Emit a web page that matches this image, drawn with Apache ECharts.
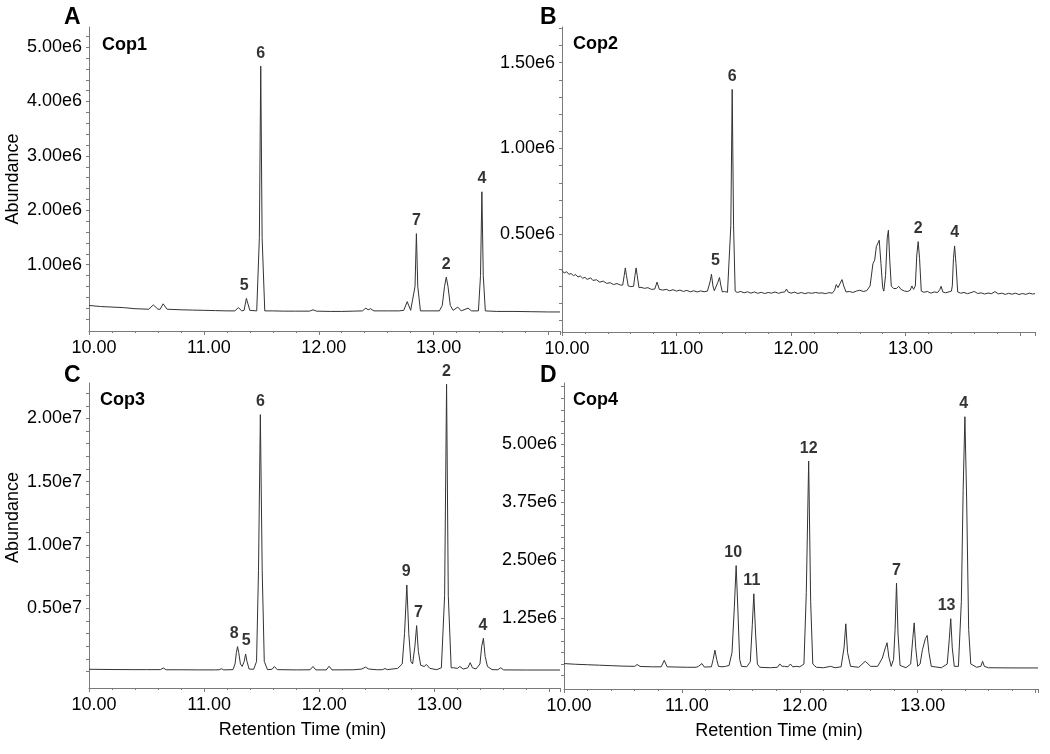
<!DOCTYPE html>
<html><head><meta charset="utf-8">
<script src="https://cdn.jsdelivr.net/npm/echarts@6/dist/echarts.min.js"></script>
<style>html,body{margin:0;padding:0;background:#fff}#c{width:1050px;height:754px}</style>
</head><body><div id="c"></div>
<script>
// ---- Data: retention time (min), abundance in axis units (A,B,D: x1e6, C: x1e7)
const traceA = [[10.00,0.25],[10.10,0.23],[10.20,0.22],[10.30,0.21],[10.40,0.19],[10.52,0.18],[10.56,0.26],[10.60,0.18],[10.62,0.18],[10.645,0.28],[10.68,0.18],[10.80,0.17],[10.90,0.165],[11.00,0.16],[11.10,0.155],[11.20,0.15],[11.27,0.15],[11.30,0.21],[11.33,0.15],[11.35,0.16],[11.37,0.38],[11.40,0.16],[11.46,0.15],[11.483,1.5],[11.495,4.65],[11.507,1.5],[11.53,0.15],[11.60,0.15],[11.70,0.145],[11.80,0.145],[11.92,0.145],[11.95,0.17],[11.98,0.145],[12.10,0.14],[12.20,0.14],[12.30,0.145],[12.38,0.15],[12.41,0.20],[12.43,0.17],[12.45,0.19],[12.48,0.15],[12.60,0.15],[12.70,0.15],[12.74,0.16],[12.77,0.32],[12.80,0.16],[12.815,0.17],[12.838,0.6],[12.85,1.57],[12.862,0.6],[12.885,0.15],[12.95,0.15],[13.05,0.15],[13.075,0.25],[13.095,0.6],[13.11,0.77],[13.125,0.6],[13.145,0.25],[13.17,0.16],[13.21,0.22],[13.24,0.15],[13.30,0.2],[13.33,0.15],[13.39,0.15],[13.408,0.8],[13.42,2.34],[13.432,0.8],[13.45,0.15],[13.55,0.14],[13.70,0.14],[13.85,0.135],[14.00,0.13],[14.10,0.13]];

const traceB = [[10.00,0.29],[10.02,0.275],[10.04,0.283],[10.06,0.268],[10.08,0.272],[10.10,0.26],[10.12,0.266],[10.14,0.252],[10.16,0.258],[10.18,0.245],[10.20,0.25],[10.22,0.238],[10.25,0.247],[10.27,0.232],[10.30,0.236],[10.33,0.222],[10.36,0.228],[10.39,0.215],[10.42,0.219],[10.45,0.208],[10.48,0.214],[10.51,0.205],[10.53,0.205],[10.543,0.26],[10.553,0.305],[10.563,0.26],[10.578,0.2],[10.60,0.196],[10.625,0.198],[10.637,0.26],[10.647,0.305],[10.657,0.26],[10.672,0.19],[10.69,0.192],[10.72,0.186],[10.75,0.19],[10.78,0.18],[10.81,0.182],[10.83,0.222],[10.85,0.18],[10.88,0.176],[10.91,0.18],[10.94,0.172],[10.97,0.178],[11.00,0.17],[11.03,0.176],[11.06,0.168],[11.09,0.174],[11.12,0.166],[11.15,0.172],[11.18,0.165],[11.21,0.171],[11.24,0.166],[11.27,0.17],[11.285,0.168],[11.295,0.23],[11.305,0.268],[11.318,0.2],[11.33,0.172],[11.345,0.165],[11.36,0.22],[11.375,0.249],[11.388,0.2],[11.40,0.165],[11.42,0.168],[11.445,0.163],[11.46,0.165],[11.474,0.55],[11.486,1.344],[11.498,0.55],[11.512,0.17],[11.53,0.162],[11.56,0.168],[11.59,0.16],[11.62,0.166],[11.65,0.158],[11.68,0.165],[11.71,0.157],[11.74,0.163],[11.77,0.156],[11.80,0.162],[11.83,0.158],[11.86,0.165],[11.89,0.157],[11.92,0.163],[11.945,0.165],[11.96,0.182],[11.975,0.164],[12.00,0.158],[12.03,0.164],[12.06,0.156],[12.09,0.162],[12.12,0.155],[12.15,0.161],[12.18,0.157],[12.215,0.162],[12.23,0.172],[12.245,0.158],[12.27,0.16],[12.30,0.155],[12.33,0.161],[12.36,0.158],[12.38,0.175],[12.395,0.208],[12.41,0.19],[12.425,0.2],[12.445,0.237],[12.46,0.2],[12.48,0.165],[12.51,0.168],[12.54,0.162],[12.57,0.17],[12.60,0.175],[12.63,0.168],[12.66,0.172],[12.69,0.2],[12.715,0.33],[12.73,0.35],[12.745,0.43],[12.77,0.466],[12.785,0.33],[12.80,0.19],[12.81,0.17],[12.825,0.26],[12.84,0.48],[12.85,0.524],[12.862,0.35],[12.875,0.2],[12.895,0.185],[12.92,0.185],[12.94,0.198],[12.96,0.18],[12.99,0.17],[13.02,0.168],[13.04,0.175],[13.055,0.2],[13.07,0.18],[13.085,0.2],[13.098,0.38],[13.11,0.458],[13.122,0.36],[13.137,0.17],[13.16,0.163],[13.19,0.168],[13.22,0.158],[13.25,0.165],[13.28,0.162],[13.30,0.18],[13.31,0.198],[13.325,0.165],[13.35,0.16],[13.38,0.166],[13.40,0.17],[13.408,0.2],[13.418,0.36],[13.428,0.433],[13.44,0.33],[13.455,0.165],[13.48,0.158],[13.51,0.162],[13.54,0.155],[13.57,0.161],[13.60,0.168],[13.63,0.156],[13.66,0.16],[13.69,0.153],[13.72,0.159],[13.75,0.155],[13.78,0.167],[13.81,0.154],[13.84,0.158],[13.87,0.151],[13.90,0.157],[13.93,0.152],[13.96,0.158],[13.99,0.15],[14.02,0.156],[14.05,0.151],[14.08,0.158],[14.11,0.153],[14.13,0.155]];

const traceC = [[10.00,0.018],[10.20,0.016],[10.40,0.015],[10.50,0.015],[10.62,0.015],[10.645,0.028],[10.67,0.014],[10.80,0.014],[10.95,0.013],[11.10,0.013],[11.13,0.014],[11.15,0.022],[11.17,0.013],[11.25,0.015],[11.268,0.06],[11.28,0.15],[11.29,0.197],[11.30,0.15],[11.315,0.06],[11.33,0.04],[11.348,0.08],[11.36,0.139],[11.372,0.08],[11.39,0.02],[11.43,0.018],[11.455,0.08],[11.472,0.8],[11.488,2.03],[11.504,0.8],[11.522,0.08],[11.55,0.015],[11.59,0.018],[11.61,0.04],[11.635,0.015],[11.80,0.013],[11.92,0.014],[11.945,0.04],[11.97,0.013],[12.06,0.013],[12.085,0.042],[12.11,0.013],[12.30,0.014],[12.37,0.02],[12.40,0.035],[12.43,0.02],[12.50,0.014],[12.55,0.015],[12.57,0.024],[12.59,0.015],[12.68,0.025],[12.72,0.06],[12.74,0.3],[12.76,0.684],[12.777,0.3],[12.795,0.08],[12.81,0.06],[12.83,0.2],[12.845,0.363],[12.86,0.16],[12.88,0.05],[12.91,0.04],[12.93,0.056],[12.96,0.025],[13.02,0.015],[13.06,0.03],[13.088,0.6],[13.105,2.27],[13.12,0.6],[13.145,0.03],[13.165,0.03],[13.20,0.025],[13.22,0.04],[13.25,0.02],[13.29,0.03],[13.31,0.07],[13.33,0.03],[13.36,0.02],[13.395,0.06],[13.41,0.2],[13.425,0.263],[13.44,0.12],[13.46,0.04],[13.50,0.015],[13.55,0.014],[13.575,0.03],[13.60,0.013],[13.80,0.012],[14.09,0.012]];

const traceD = [[10.00,0.26],[10.10,0.245],[10.20,0.235],[10.30,0.225],[10.40,0.215],[10.50,0.205],[10.60,0.2],[10.62,0.24],[10.645,0.198],[10.75,0.19],[10.825,0.19],[10.85,0.33],[10.875,0.19],[10.95,0.185],[11.05,0.18],[11.12,0.18],[11.14,0.2],[11.155,0.19],[11.17,0.26],[11.19,0.185],[11.25,0.19],[11.265,0.35],[11.28,0.55],[11.295,0.35],[11.31,0.2],[11.34,0.19],[11.37,0.2],[11.40,0.22],[11.425,0.5],[11.445,1.5],[11.46,2.38],[11.475,1.4],[11.49,0.35],[11.505,0.2],[11.55,0.19],[11.58,0.3],[11.597,1.1],[11.61,1.77],[11.625,0.9],[11.64,0.25],[11.66,0.18],[11.75,0.17],[11.81,0.18],[11.83,0.25],[11.85,0.2],[11.87,0.2],[11.88,0.22],[11.90,0.19],[11.92,0.25],[11.94,0.19],[11.97,0.2],[11.98,0.22],[12.00,0.19],[12.035,0.25],[12.055,1.8],[12.075,4.64],[12.092,1.6],[12.11,0.25],[12.14,0.18],[12.20,0.17],[12.26,0.2],[12.30,0.17],[12.35,0.19],[12.375,0.6],[12.39,1.12],[12.405,0.5],[12.43,0.2],[12.50,0.18],[12.555,0.31],[12.60,0.2],[12.66,0.2],[12.70,0.38],[12.725,0.6],[12.74,0.71],[12.755,0.4],[12.775,0.2],[12.795,0.35],[12.808,1.0],[12.82,2.0],[12.833,0.9],[12.85,0.22],[12.90,0.17],[12.94,0.25],[12.958,0.8],[12.97,1.14],[12.983,0.6],[13.00,0.2],[13.02,0.25],[13.04,0.56],[13.065,0.8],[13.08,0.87],[13.095,0.5],[13.115,0.2],[13.20,0.17],[13.25,0.25],[13.268,0.8],[13.28,1.23],[13.293,0.6],[13.31,0.2],[13.345,0.2],[13.37,1.6],[13.385,4.0],[13.40,5.6],[13.415,3.8],[13.432,1.0],[13.45,0.25],[13.50,0.18],[13.535,0.2],[13.55,0.31],[13.565,0.2],[13.60,0.17],[13.80,0.166],[14.02,0.165]];

// peak labels: [time, abundance, text]
const peaksA = [[11.35,0.38,'5'],[11.495,4.65,'6'],[12.85,1.57,'7'],[13.11,0.77,'2'],[13.42,2.34,'4']];
const peaksB = [[11.34,0.27,'5'],[11.486,1.344,'6'],[13.11,0.458,'2'],[13.428,0.433,'4']];
const peaksC = [[11.26,0.197,'8'],[11.365,0.139,'5'],[11.488,2.03,'6'],[12.755,0.684,'9'],[12.86,0.363,'7'],[13.105,2.27,'2'],[13.42,0.263,'4']];
const peaksD = [[11.435,2.38,'10'],[11.593,1.77,'11'],[12.075,4.64,'12'],[12.82,2.0,'7'],[13.245,1.23,'13'],[13.39,5.6,'4']];

// tick labels
const xLabels = [10, 11, 12, 13];
const yLabelsA = [1, 2, 3, 4, 5];
const yLabelsB = [0.5, 1.0, 1.5];
const yLabelsC = [0.5, 1.0, 1.5, 2.0];
const yLabelsD = [1.25, 2.5, 3.75, 5.0];
const panelNames = ['Cop1', 'Cop2', 'Cop3', 'Cop4'];
const panelLetters = ['A', 'B', 'C', 'D'];

function steps(a, b, s) { const r = []; for (let v = a; v <= b + 1e-9; v += s) r.push(Math.round(v * 1000) / 1000); return r; }

const FONT = 'Liberation Sans, Arial, sans-serif';
const AXC = '#7a7a7a';
const grids = [
  {left: 89, top: 27, width: 471, height: 304},
  {left: 562, top: 27, width: 473, height: 305},
  {left: 89, top: 383, width: 471, height: 305},
  {left: 564, top: 383, width: 474, height: 306}
];
const xMax = [14.10, 14.13, 14.09, 14.02];
const yCfg = [
  {min: -0.22, max: 5.37, labels: yLabelsA, ticks: steps(0, 5.2, 0.2), suf: 'e6', name: 'Abundance', shift: 0},
  {min: -0.068, max: 1.707, labels: yLabelsB, ticks: steps(0, 1.7, 0.1), suf: 'e6', name: '', shift: 0},
  {min: -0.13, max: 2.28, labels: yLabelsC, ticks: steps(0, 2.2, 0.1), suf: 'e7', name: 'Abundance', shift: 36},
  {min: -0.29, max: 6.33, labels: yLabelsD, ticks: steps(0, 6.25, 0.25), suf: 'e6', name: '', shift: 0}
];

const xAxis = grids.map((g, i) => ({
  type: 'value', gridIndex: i, min: 10, max: xMax[i], interval: 1,
  axisLine: {show: true, onZero: false, lineStyle: {color: AXC, width: 1}},
  axisTick: {show: true, length: 4, lineStyle: {color: AXC}},
  minorTick: {show: true, splitNumber: 5, length: 2, lineStyle: {color: AXC}},
  splitLine: {show: false},
  axisLabel: {
    customValues: xLabels,
    formatter: v => v.toFixed(2), fontSize: 18, color: '#000', fontFamily: FONT, margin: 8,
    padding: [0, 0, 0, 10]
  },
  name: i >= 2 ? 'Retention Time (min)' : '',
  nameLocation: 'middle', nameGap: 33,
  nameTextStyle: {fontSize: 18, color: '#000', fontFamily: FONT, padding: [0, 44, 0, 0]}
}));

const yAxis = yCfg.map((c, i) => ({
  type: 'value', gridIndex: i, min: c.min, max: c.max,
  axisLine: {show: true, onZero: false, lineStyle: {color: AXC, width: 1}},
  axisTick: {show: true, length: 3, customValues: c.ticks, lineStyle: {color: AXC}},
  splitLine: {show: false},
  axisLabel: {
    customValues: c.labels,
    formatter: v => v.toFixed(2) + c.suf, fontSize: 18, color: '#000', fontFamily: FONT, margin: 7
  },
  name: c.name, nameLocation: 'middle', nameGap: 67,
  nameTextStyle: {fontSize: 18, color: '#000', fontFamily: FONT, padding: [0, 0, 0, c.shift]}
}));

const traces = [traceA, traceB, traceC, traceD];
const peaks = [peaksA, peaksB, peaksC, peaksD];
const series = [];
traces.forEach((t, i) => series.push({
  type: 'line', xAxisIndex: i, yAxisIndex: i, data: t, showSymbol: false, symbol: 'none',
  lineStyle: {color: '#333', width: 1}, silent: true, z: 2
}));
peaks.forEach((p, i) => series.push({
  type: 'scatter', xAxisIndex: i, yAxisIndex: i, data: p, symbolSize: 0, silent: true, clip: false,
  label: {show: true, position: 'top', distance: 5, formatter: q => q.value[2],
    fontSize: 16, fontWeight: 'bold', color: '#000', fontFamily: FONT}
}));

const titlePos = [[102, 36], [573, 35], [100, 391], [573, 391]];
const letterPos = [[64, 6], [540, 6], [64, 364], [540, 364]];
const title = [];
panelNames.forEach((n, i) => title.push({text: n, left: titlePos[i][0], top: titlePos[i][1], padding: 0,
  textStyle: {fontSize: 18, fontWeight: 'bold', color: '#000', fontFamily: FONT}}));
panelLetters.forEach((n, i) => title.push({text: n, left: letterPos[i][0], top: letterPos[i][1], padding: 0,
  textStyle: {fontSize: 23, fontWeight: 'bold', color: '#000', fontFamily: FONT}}));

const chart = echarts.init(document.getElementById('c'), null, {renderer: 'canvas'});
chart.setOption({animation: false, backgroundColor: '#fff', title, grid: grids, xAxis, yAxis, series});
</script></body></html>
